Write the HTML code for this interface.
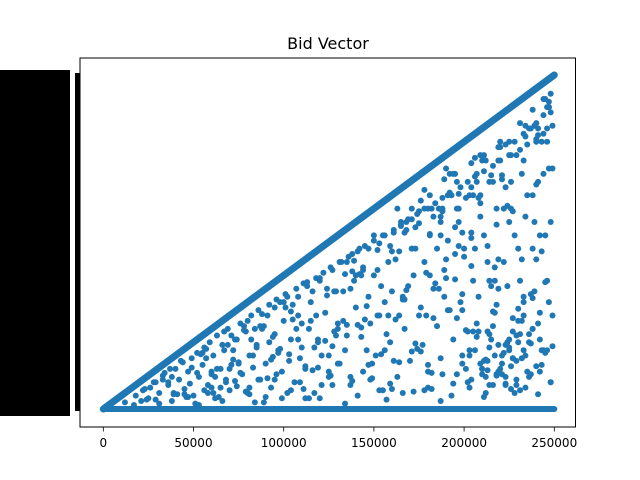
<!DOCTYPE html>
<html><head><meta charset="utf-8">
<style>
html,body{margin:0;padding:0;background:#fff;}
svg{display:block;font-family:"DejaVu Sans","Liberation Sans",sans-serif;}
</style></head>
<body>
<svg id="chart" width="640" height="480" viewBox="0 0 640 480">
  <rect x="0" y="0" width="640" height="480" fill="#fff"/>
  <text x="328" y="49" text-anchor="middle" font-size="16" fill="#000">Bid Vector</text>
  <rect x="0" y="70" width="70" height="346" fill="#000"/>
  <rect x="75" y="73" width="5" height="338" fill="#000"/>
  <g id="plot"></g>
  <rect x="80" y="58" width="495.5" height="369" fill="none" stroke="#000" stroke-width="1"/>
  <g id="xaxis"></g>
</svg>
<script>
const xTicks = [0, 50000, 100000, 150000, 200000, 250000];
const xTickLabels = ["0", "50000", "100000", "150000", "200000", "250000"];
const diagStart = [0, 0];
const diagEnd = [250000, 250000];
const floorLine = [0, 250000];
// scattered bids, in thousands
const scatterX = [12,18,22,25,28,31,33,36,38,40,42,44,45,47,49,50,52,53,55,56,58,59,61,62,63,65,66,68,69,70,72,73,75,76,77,79,80,82,83,85,86,87,89,90,92,93,95,96,97,99,100,101,103,104,106,107,108,110,111,112,114,115,117,118,119,121,122,123,125,126,128,129,130,132,133,134,136,137,139,140,141,143,144,145,147,148,150,151,152,154,155,156,158,159,161,162,163,165,166,167,169,170,172,173,174,176,177,178,180,181,183,184,185,187,188,189,191,192,194,195,196,198,199,200,202,203,205,206,207,209,210,211,213,214,216,217,218,220,221,222,224,225,227,228,229,231,232,233,235,236,238,239,240,242,243,244,246,247,248,249,
60,75,88,98,105,115,124,135,142,150,160,168,175,182,190,196,204,210,215,220,226,230,236,240,245,248,
55,68,80,92,102,112,120,130,138,146,155,164,171,179,186,193,200,207,213,219,225,231,237,243,
70,85,95,110,125,140,153,167,178,188,198,206,214,222,229,235,241,247,
100,120,135,150,165,180,195,205,212,218,223,228,234,238,244,
201,206,211,215,219,223,227,231,234,238,204,209,214,218,222,226,230,236,241,246,
17,23,29,34,39,43,48,51,57,60,64,67,71,74,78,81,84,88,91,94,98,102,105,109,113,116,120,124,127,131,135,138,142,146,149,153,157,160,164,168,171,175,179,182,186,190,193,197,201,204,208,212,215,219,223,226,230,234,237,241,245,
26,37,46,54,62,71,79,87,94,101,109,116,123,131,138,145,153,160,167,174,181,188,195,202,209,216,223,230,237,244,
33,41,57,65,74,83,91,99,108,117,126,134,143,152,161,169,178,187,196,204,213,221,229,238,246,
44,52,61,69,78,86,95,103,113,121,130,139,147,156,165,173,182,191,199,208,217,225,233,242,
21,36,49,58,67,76,84,93,104,111,119,128,137,144,154,162,171,180,189,197,205,214,221,232,240,249,
199,203,208,212,217,221,224,228,232,235,239,243,247,202,207,213,216,220,225,229,233,237,242,245,
82,107,133,158,184,209,118,143,171,197,224,156,187,219,240,248,246,249,247,244,
24,31,39,47,53,60,66,73,81,89,96,104,112,119,127,134,141,149,157,164,172,180,187,194,203,211,218,226,233,241,248,
29,45,63,81,97,114,129,148,166,183,199,216,233,249,38,56,72,90,108,125,141,159,176,192,210,227,243,
163,171,178,185,192,199,206,213,220,227,234,241,168,176,183,190,197,204,211,218,225,232,239,246,
181,189,196,204,211,219,226,233,240,247,187,194,201,209,216,223,231,238,245,
210,214,219,223,227,231,236,240,244,248,212,217,221,225,229,234,238,242,
137,144,152,159,166,173,181,188,195,203,127,147,161,175,191,207];
const scatterY = [5,10,14,8,20,12,25,18,6,30,22,35,15,28,38,10,42,24,33,46,18,50,40,8,55,30,48,22,60,14,44,52,35,64,26,58,12,70,40,48,74,22,62,34,78,16,56,82,44,28,66,86,36,52,20,90,70,46,94,30,60,80,12,98,50,40,102,72,24,106,58,88,34,110,66,44,114,18,96,76,118,54,28,122,84,64,126,40,104,92,14,130,70,50,134,112,24,138,82,60,142,36,100,120,146,76,48,150,16,130,90,154,62,38,158,104,74,162,52,136,26,166,86,114,170,44,96,174,64,144,30,178,122,56,182,106,78,186,40,150,92,190,68,130,22,194,112,84,198,50,160,140,202,72,118,206,96,180,236,212,
28,34,60,45,78,66,90,55,120,100,88,140,70,150,112,170,128,186,92,200,150,75,210,168,130,222,
42,20,66,50,84,32,98,60,116,44,130,70,150,102,90,160,120,176,58,186,140,96,210,200,
30,46,22,64,40,100,70,132,110,150,80,120,170,110,190,160,210,230,
80,96,110,130,140,150,176,160,186,150,166,200,212,120,220,
30,44,36,52,28,48,38,56,40,60,22,34,46,26,42,32,50,24,64,44,
3,15,7,27,11,36,19,4,45,26,9,58,33,17,62,40,5,71,23,54,80,12,67,38,92,29,8,85,47,110,63,21,101,77,34,124,56,15,118,89,43,139,70,27,150,98,10,161,59,132,84,37,175,112,18,190,66,144,49,205,95,
16,30,9,41,24,55,13,62,39,76,20,88,51,34,103,67,14,118,82,45,131,26,97,58,154,73,19,120,86,176,
22,11,38,16,52,31,70,8,84,46,25,101,61,119,36,92,14,140,68,107,29,172,55,83,200,
35,27,12,48,59,22,76,41,95,18,64,111,33,80,137,49,15,126,74,158,96,44,186,130,
6,20,31,12,44,27,60,37,73,15,52,88,24,106,41,67,120,33,84,150,58,96,175,38,112,70,
40,16,58,24,72,34,50,12,66,28,88,44,80,20,54,36,62,30,46,18,70,26,52,42,
52,60,88,110,94,160,70,100,120,140,152,44,130,90,200,140,210,180,226,232,
7,4,12,9,3,16,6,21,11,5,26,14,8,31,18,4,10,23,7,35,13,28,6,19,40,9,25,15,44,11,20,
20,11,30,16,42,8,55,22,12,68,34,18,80,47,24,14,37,9,52,28,63,19,43,74,26,58,33,
150,142,164,120,176,132,188,110,196,148,204,170,134,156,144,180,122,166,190,138,200,176,212,226,
160,172,150,184,130,196,170,206,214,226,144,176,158,190,170,198,214,224,232,
30,18,48,24,38,14,56,32,44,20,12,40,26,52,36,16,60,28,
90,104,70,122,84,136,100,148,116,160,104,120,132,148,160,170];

const x0 = 103.3, x1 = 554.3;
const yBase = 409, yTop = 75;
function sx(v){ return x0 + (v / 250000) * (x1 - x0); }
function sy(v){ return yBase - (v / 250000) * (yBase - yTop); }
const NS = "http://www.w3.org/2000/svg";
const plot = document.getElementById("plot");
const color = "#1f77b4";

const fl = document.createElementNS(NS, "line");
fl.setAttribute("x1", sx(floorLine[0])); fl.setAttribute("x2", sx(floorLine[1]));
fl.setAttribute("y1", sy(0)); fl.setAttribute("y2", sy(0));
fl.setAttribute("stroke", color); fl.setAttribute("stroke-width", "6"); fl.setAttribute("stroke-linecap", "round");


plot.appendChild(fl);

const dl = document.createElementNS(NS, "line");
dl.setAttribute("x1", sx(diagStart[0])); dl.setAttribute("y1", sy(diagStart[1]));
dl.setAttribute("x2", sx(diagEnd[0])); dl.setAttribute("y2", sy(diagEnd[1]));
dl.setAttribute("stroke", color); dl.setAttribute("stroke-width", "7"); dl.setAttribute("stroke-linecap", "round");


plot.appendChild(dl);

for (let i = 0; i < scatterX.length && i < scatterY.length; i++) {
  if (scatterY[i] >= scatterX[i]) continue;
  const c = document.createElementNS(NS, "circle");
  c.setAttribute("cx", sx(scatterX[i] * 1000));
  c.setAttribute("cy", sy(scatterY[i] * 1000));
  c.setAttribute("r", "3");
  c.setAttribute("fill", color);
  
  
  plot.appendChild(c);
}

const xa = document.getElementById("xaxis");
for (let i = 0; i < xTicks.length; i++) {
  const x = sx(xTicks[i]);
  const t = document.createElementNS(NS, "line");
  t.setAttribute("x1", x); t.setAttribute("x2", x);
  t.setAttribute("y1", 427); t.setAttribute("y2", 431.5);
  t.setAttribute("stroke", "#000"); t.setAttribute("stroke-width", "0.8");
  
  
  xa.appendChild(t);
  const l = document.createElementNS(NS, "text");
  l.setAttribute("x", x); l.setAttribute("y", 447);
  l.setAttribute("text-anchor", "middle"); l.setAttribute("font-size", "12");
  l.textContent = xTickLabels[i];
  
  
  xa.appendChild(l);
}
</script>
</body></html>
